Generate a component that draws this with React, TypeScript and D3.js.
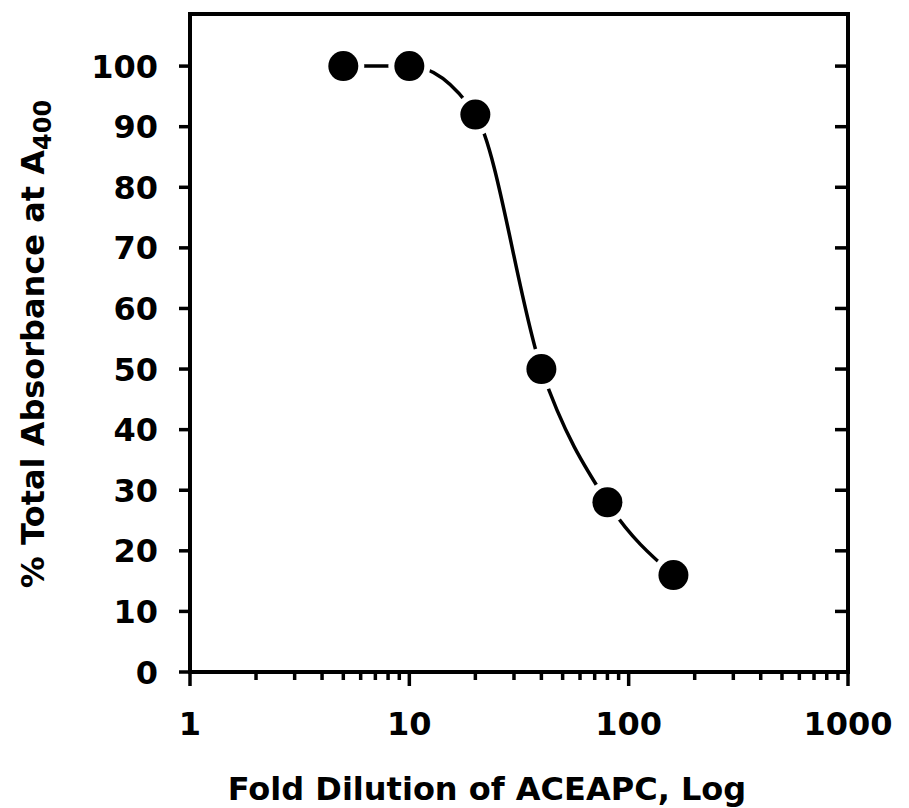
import { useEffect, useRef } from 'react';
import * as d3 from 'd3';

// values
const folds = [5, 10, 20, 40, 80, 160];
const pcts = [100, 100, 92, 50, 28, 16];
const yTicks = [0, 10, 20, 30, 40, 50, 60, 70, 80, 90, 100];
const xTicks = [1, 10, 100, 1000];

const App = () => {
    const ref = useRef<SVGSVGElement>(null);

    useEffect(() => {
        const width = 909;
        const height = 808;
        const left = 190;
        const right = 848;
        const top = 14;
        const bottom = 672;
        const font = "'DejaVu Sans', sans-serif";

        const svg = d3.select(ref.current);
        svg.selectAll('*').remove();
        svg.attr('width', width).attr('height', height).attr('viewBox', [0, 0, width, height]);

        const x = d3.scaleLog().domain([1, 1000]).range([left, right]);
        const y = d3.scaleLinear().domain([0, 108.6]).range([bottom, top]);

        const data = folds.map((f, i) => ({ fold: f, pct: pcts[i] }));

        // frame
        svg.append('rect')
            .attr('x', left).attr('y', top)
            .attr('width', right - left).attr('height', bottom - top)
            .attr('fill', 'none').attr('stroke', '#000').attr('stroke-width', 4);

        // left ticks (outward), right ticks (inward) + labels
        const yg = svg.append('g');
        yg.selectAll('line.l')
            .data(yTicks)
            .join('line')
            .attr('class', 'l')
            .attr('x1', left - 11).attr('x2', left)
            .attr('y1', d => y(d)).attr('y2', d => y(d))
            .attr('stroke', '#000').attr('stroke-width', 3.5);
        yg.selectAll('line.r')
            .data(yTicks.filter(d => d > 0))
            .join('line')
            .attr('class', 'r')
            .attr('x1', right - 13).attr('x2', right)
            .attr('y1', d => y(d)).attr('y2', d => y(d))
            .attr('stroke', '#000').attr('stroke-width', 3.5);
        yg.selectAll('text')
            .data(yTicks)
            .join('text')
            .attr('x', 158)
            .attr('y', d => y(d))
            .attr('dy', '0.36em')
            .attr('text-anchor', 'end')
            .attr('font-family', font)
            .attr('font-weight', 'bold')
            .attr('font-size', 32)
            .text(d => d);

        // bottom ticks, major and minor
        const minor = d3.range(0, 3).flatMap(e => d3.range(2, 10).map(m => m * 10 ** e));
        const xg = svg.append('g');
        xg.selectAll('line.minor')
            .data(minor)
            .join('line')
            .attr('class', 'minor')
            .attr('x1', d => x(d)).attr('x2', d => x(d))
            .attr('y1', bottom).attr('y2', bottom + 8)
            .attr('stroke', '#000').attr('stroke-width', 3.5);
        xg.selectAll('line.major')
            .data(xTicks)
            .join('line')
            .attr('class', 'major')
            .attr('x1', d => x(d)).attr('x2', d => x(d))
            .attr('y1', bottom).attr('y2', bottom + 14)
            .attr('stroke', '#000').attr('stroke-width', 3.5);
        xg.selectAll('text')
            .data(xTicks)
            .join('text')
            .attr('x', d => x(d))
            .attr('y', 735)
            .attr('text-anchor', 'middle')
            .attr('font-family', font)
            .attr('font-weight', 'bold')
            .attr('font-size', 32)
            .text(d => d);

        // axis titles
        svg.append('text')
            .attr('x', 487).attr('y', 800)
            .attr('text-anchor', 'middle')
            .attr('font-family', font)
            .attr('font-weight', 'bold')
            .attr('font-size', 32)
            .text('Fold Dilution of ACEAPC, Log');

        const yt = svg.append('text')
            .attr('transform', 'translate(44,344) rotate(-90)')
            .attr('text-anchor', 'middle')
            .attr('font-family', font)
            .attr('font-weight', 'bold')
            .attr('font-size', 32);
        yt.append('tspan').text('% Total Absorbance at A');
        yt.append('tspan').attr('dy', 7).attr('font-size', 24).text('400');

        // fitted curve, broken around the markers
        const line = d3.line<{ fold: number; pct: number }>()
            .x(d => x(d.fold))
            .y(d => y(d.pct))
            .curve(d3.curveMonotoneX);

        svg.append('path')
            .datum(data)
            .attr('d', line)
            .attr('fill', 'none')
            .attr('stroke', '#000')
            .attr('stroke-width', 3.5)
            .attr('stroke-linecap', 'round');

        svg.append('g')
            .selectAll('circle')
            .data(data)
            .join('circle')
            .attr('cx', d => x(d.fold))
            .attr('cy', d => y(d.pct))
            .attr('r', 21)
            .attr('fill', '#fff');

        svg.append('g')
            .selectAll('circle')
            .data(data)
            .join('circle')
            .attr('cx', d => x(d.fold))
            .attr('cy', d => y(d.pct))
            .attr('r', 15)
            .attr('fill', '#000');
    }, []);

    return (
        <div style={{ position: 'absolute', left: 0, top: 0 }}>
            <svg ref={ref} style={{ display: 'block' }} />
        </div>
    );
};

export default App;
